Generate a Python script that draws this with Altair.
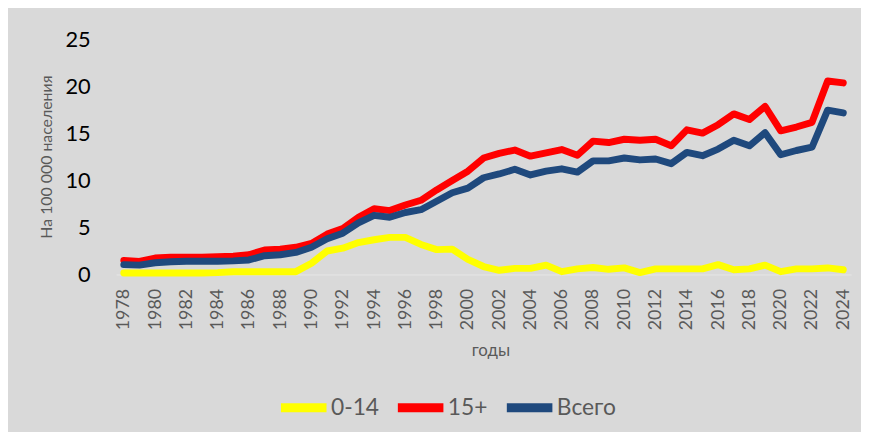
import altair as alt
import pandas as pd

years = list(range(1978, 2025))

age_0_14 = [0.15, 0.15, 0.15, 0.15, 0.15, 0.15, 0.2, 0.3, 0.3, 0.3, 0.3, 0.3,
            1.2, 2.5, 2.8, 3.4, 3.7, 3.95, 3.95, 3.2, 2.65, 2.7, 1.6, 0.85,
            0.45, 0.65, 0.65, 1.0, 0.3, 0.6, 0.75, 0.55, 0.7, 0.2, 0.6, 0.6,
            0.6, 0.6, 1.05, 0.5, 0.6, 1.0, 0.3, 0.6, 0.6, 0.7, 0.5]

age_15_plus = [1.5, 1.4, 1.75, 1.85, 1.85, 1.85, 1.9, 1.95, 2.1, 2.6, 2.7, 2.9,
               3.3, 4.3, 4.9, 6.1, 7.0, 6.8, 7.4, 7.9, 9.0, 10.0, 11.0, 12.4,
               12.9, 13.25, 12.6, 12.95, 13.3, 12.7, 14.2, 14.05, 14.4, 14.3, 14.4, 13.7,
               15.4, 15.05, 15.95, 17.1, 16.5, 17.9, 15.3, 15.7, 16.2, 20.6, 20.4]

total = [1.05, 1.0, 1.25, 1.35, 1.4, 1.4, 1.4, 1.45, 1.55, 2.0, 2.1, 2.35,
         2.9, 3.8, 4.4, 5.5, 6.3, 6.1, 6.6, 6.9, 7.8, 8.7, 9.2, 10.3,
         10.7, 11.2, 10.6, 11.0, 11.25, 10.9, 12.1, 12.1, 12.4, 12.2, 12.3, 11.8,
         13.0, 12.65, 13.35, 14.3, 13.7, 15.1, 12.75, 13.2, 13.55, 17.5, 17.2]

series_names = ["0-14", "15+", "Всего"]
series_colors = ["#FFFF00", "#FF0000", "#1F497D"]
tick_years = list(range(1978, 2025, 2))
y_ticks = [0, 5, 10, 15, 20, 25]

rows = []
for name, vals in zip(series_names, [age_0_14, age_15_plus, total]):
    for yr, v in zip(years, vals):
        rows.append({"year": yr, "value": v, "series": name, "ord": series_names.index(name)})
df = pd.DataFrame(rows)

FONT = "Lato"
GRAY = "#595959"

chart = alt.Chart(df).mark_line(strokeWidth=7, strokeCap="round", strokeJoin="round").encode(
    x=alt.X("year:Q",
            scale=alt.Scale(domain=[1977.5, 2024.5], nice=False, zero=False),
            axis=alt.Axis(values=tick_years, format="d", labelAngle=270,
                          labelFontSize=18, labelColor=GRAY, labelFont=FONT,
                          labelPadding=14, ticks=False, grid=False,
                          domainColor="#e6e6e6", domainWidth=1,
                          title="годы", titleFont=FONT, titleFontSize=17,
                          titleFontWeight="normal", titleColor=GRAY,
                          titleX=378, titleY=77, titleBaseline="middle")),
    y=alt.Y("value:Q",
            scale=alt.Scale(domain=[0, 25], nice=False),
            axis=alt.Axis(values=y_ticks, labelFontSize=22, labelColor="#000000",
                          labelFont=FONT, labelPadding=26, ticks=False, domain=False,
                          grid=False,
                          title="На 100 000 населения", titleFont=FONT, titleFontSize=16,
                          titleFontWeight="normal", titleColor=GRAY,
                          titleX=-70, titleY=118, titleAngle=270,
                          titleAlign="center", titleBaseline="middle")),
    color=alt.Color("series:N",
                    scale=alt.Scale(domain=series_names, range=series_colors),
                    legend=alt.Legend(orient="none", legendX=162, legendY=344,
                                      direction="horizontal", title=None,
                                      symbolType="stroke", symbolStrokeWidth=9,
                                      symbolSize=2116, labelFontSize=23,
                                      labelFont=FONT, labelColor=GRAY,
                                      labelOffset=0, columnPadding=0,
                                      gridAlign="none")),
    order=alt.Order("ord:Q"),
    detail="series:N",
).properties(
    width=742,
    height=237,
    background="#d9d9d9",
    padding={"left": 109, "top": 30, "right": 10, "bottom": 157},
    autosize=alt.AutoSizeParams(type="none"),
).configure_view(stroke=None)

chart.save("out.html", embed_options={"renderer": "svg", "actions": False})
